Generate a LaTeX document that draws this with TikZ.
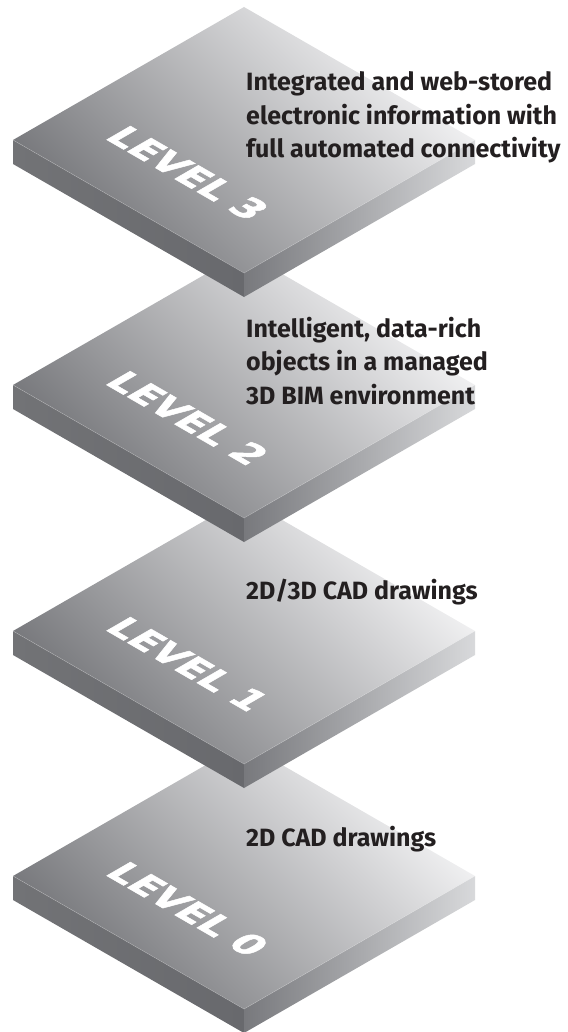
\documentclass[tikz,border=0pt]{standalone}
\usepackage{fontspec}
\newfontfamily\descfont{Fira Sans}
\newfontfamily\lvlfont[BoldFeatures={FakeBold=1.6}]{DejaVu Sans}
\definecolor{topdark}{RGB}{114,115,119}
\definecolor{toplight}{RGB}{246,246,247}
\definecolor{leftdark}{RGB}{104,105,109}
\definecolor{leftlight}{RGB}{114,115,118}
\definecolor{rightdark}{RGB}{120,121,125}
\definecolor{rightlight}{RGB}{216,217,219}
\definecolor{desctext}{RGB}{35,31,32}
\begin{document}
\begin{tikzpicture}[x=1pt, y=-1pt,
  topface/.style={bottom color=topdark, top color=toplight, shading angle=-45},
  leftface/.style={left color=leftlight, right color=leftdark},
  rightface/.style={left color=rightdark, right color=rightlight},
  rim/.style={draw=white, draw opacity=0.3, line width=0.5pt},
  lvllabel/.style={text=white, inner sep=0pt, font=\lvlfont\bfseries\fontsize{37.5}{37.5}\selectfont, cm={0.866,-0.5,0.866,0.5,(0,0)}},
  desc/.style={text=desctext, inner sep=0pt, align=left, anchor=base west, font=\descfont\bfseries\fontsize{25}{33.5}\selectfont}]
\useasboundingbox (0,0) rectangle (567,1032);
\coordinate (t0) at (244,743);
\coordinate (t1) at (244,498);
\coordinate (t2) at (244,252);
\coordinate (t3) at (244,7);

\shade[topface] (t0) -- ++(231,133) -- ++(-231,133) -- ++(-231,-133) -- cycle;
\shade[leftface] ([shift={(-231,133)}]t0) -- ++(231,133) -- ++(0,24) -- ++(-231,-133) -- cycle;
\shade[rightface] ([shift={(0,266)}]t0) -- ++(231,-133) -- ++(0,24) -- ++(-231,133) -- cycle;
\draw[rim] ([shift={(-231,133)}]t0) -- ++(231,133) -- ++(231,-133);
\begin{scope}[shift={(188,909)}]
\node[lvllabel] (lvl0) at (0,0) {LEVEL 0};
\end{scope}
\node[desc] (desc0) at (246,846) {2D CAD drawings};

\shade[topface] (t1) -- ++(231,133) -- ++(-231,133) -- ++(-231,-133) -- cycle;
\shade[leftface] ([shift={(-231,133)}]t1) -- ++(231,133) -- ++(0,24) -- ++(-231,-133) -- cycle;
\shade[rightface] ([shift={(0,266)}]t1) -- ++(231,-133) -- ++(0,24) -- ++(-231,133) -- cycle;
\draw[rim] ([shift={(-231,133)}]t1) -- ++(231,133) -- ++(231,-133);
\begin{scope}[shift={(188,664)}]
\node[lvllabel] (lvl1) at (0,0) {LEVEL 1};
\end{scope}
\node[desc] (desc1) at (246,599) {2D/3D CAD drawings};

\shade[topface] (t2) -- ++(231,133) -- ++(-231,133) -- ++(-231,-133) -- cycle;
\shade[leftface] ([shift={(-231,133)}]t2) -- ++(231,133) -- ++(0,24) -- ++(-231,-133) -- cycle;
\shade[rightface] ([shift={(0,266)}]t2) -- ++(231,-133) -- ++(0,24) -- ++(-231,133) -- cycle;
\draw[rim] ([shift={(-231,133)}]t2) -- ++(231,133) -- ++(231,-133);
\begin{scope}[shift={(188,418)}]
\node[lvllabel] (lvl2) at (0,0) {LEVEL 2};
\end{scope}
\node[desc] (desc2) at (246,404) {Intelligent, data-rich\\objects in a managed\\3D BIM environment};

\shade[topface] (t3) -- ++(231,133) -- ++(-231,133) -- ++(-231,-133) -- cycle;
\shade[leftface] ([shift={(-231,133)}]t3) -- ++(231,133) -- ++(0,24) -- ++(-231,-133) -- cycle;
\shade[rightface] ([shift={(0,266)}]t3) -- ++(231,-133) -- ++(0,24) -- ++(-231,133) -- cycle;
\draw[rim] ([shift={(-231,133)}]t3) -- ++(231,133) -- ++(231,-133);
\begin{scope}[shift={(188,173)}]
\node[lvllabel] (lvl3) at (0,0) {LEVEL 3};
\end{scope}
\node[desc] (desc3) at (246,158) {Integrated and web-stored\\electronic information with\\full automated connectivity};
\end{tikzpicture}
\end{document}
